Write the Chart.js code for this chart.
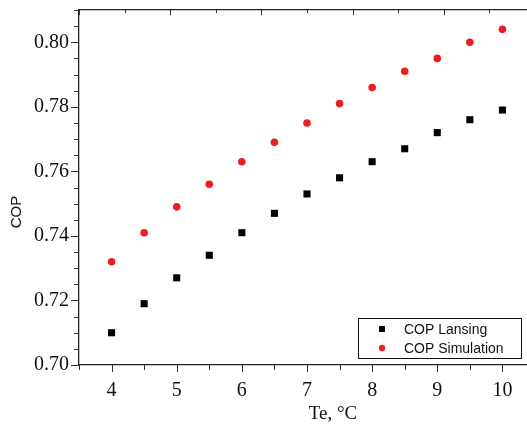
<!DOCTYPE html>
<html>
<head>
<meta charset="utf-8">
<script src="https://cdn.jsdelivr.net/npm/chart.js@4/dist/chart.umd.min.js"></script>
<style>
  html, body { margin: 0; padding: 0; background: #fff; overflow: hidden; }
  #wrap { width: 540px; height: 425px; }
</style>
</head>
<body>
<div id="wrap"><canvas id="copChart" width="540" height="425"></canvas></div>
<script>
// ========== DATA ========== //
const teValues = [4, 4.5, 5, 5.5, 6, 6.5, 7, 7.5, 8, 8.5, 9, 9.5, 10];
const copLansing = [0.710, 0.719, 0.727, 0.734, 0.741, 0.747, 0.753, 0.758, 0.763, 0.767, 0.772, 0.776, 0.779];
const copSimulation = [0.732, 0.741, 0.749, 0.756, 0.763, 0.769, 0.775, 0.781, 0.786, 0.791, 0.795, 0.800, 0.804];
const seriesNames = ["COP Lansing", "COP Simulation"];
const xTitle = "Te, °C";
const yTitle = "COP";

const serif = "'Liberation Serif', 'Times New Roman', serif";
const sans = "'Liberation Sans', Arial, sans-serif";

const isMultiple = (v, step) => Math.abs(v / step - Math.round(v / step)) < 1e-6;

// no extra room for edge labels, the plot box is fixed
function noEdgePadding(s) {
  s.paddingTop = 0;
  s.paddingBottom = 0;
  s.paddingLeft = 0;
  s.paddingRight = 0;
}

// ========== TICK MARKS + TITLES + LEGEND ========== //
const decorPlugin = {
  id: "decor",
  afterDraw(chart) {
    const { ctx, chartArea, scales } = chart;
    ctx.save();
    ctx.strokeStyle = "#333";
    ctx.lineWidth = 1;

    // left axis ticks (outward)
    scales.y.ticks.forEach(t => {
      const py = Math.round(scales.y.getPixelForValue(t.value)) + 0.5;
      const len = isMultiple(t.value, 0.02) ? 8 : 5;
      ctx.beginPath();
      ctx.moveTo(chartArea.left, py);
      ctx.lineTo(chartArea.left - len, py);
      ctx.stroke();
    });

    // bottom axis ticks (outward)
    scales.x.ticks.forEach(t => {
      const px = Math.round(scales.x.getPixelForValue(t.value)) + 0.5;
      const len = isMultiple(t.value, 1) ? 7 : 5;
      ctx.beginPath();
      ctx.moveTo(px, chartArea.bottom);
      ctx.lineTo(px, chartArea.bottom + len);
      ctx.stroke();
    });

    // top axis ticks (inward)
    scales.x2.ticks.forEach(t => {
      const px = Math.round(scales.x2.getPixelForValue(t.value)) + 0.5;
      const len = isMultiple(t.value, 2) ? 5 : 3;
      ctx.beginPath();
      ctx.moveTo(px, chartArea.top);
      ctx.lineTo(px, chartArea.top + len);
      ctx.stroke();
    });

    // axis titles
    ctx.fillStyle = "#111";
    ctx.textAlign = "center";
    ctx.textBaseline = "middle";
    ctx.font = "19px " + serif;
    ctx.fillText(xTitle, 333, 414);

    ctx.save();
    ctx.translate(17, 212);
    ctx.rotate(-Math.PI / 2);
    ctx.font = "15px " + sans;
    ctx.fillText(yTitle, 0, 0);
    ctx.restore();

    // legend box
    const lx = 358, ly = 318, lw = 163, lh = 40;
    ctx.strokeStyle = "#111";
    ctx.strokeRect(lx + 0.5, ly + 0.5, lw, lh);
    ctx.font = "14px " + sans;
    ctx.textAlign = "left";
    chart.data.datasets.forEach((ds, i) => {
      const rowY = ly + 11 + i * 19;
      ctx.fillStyle = ds.backgroundColor;
      Chart.helpers.drawPoint(ctx, {
        pointStyle: ds.pointStyle,
        radius: ds.pointStyle === "rect" ? 4.2 : 3.2,
        rotation: 0,
        borderWidth: 0
      }, 382, rowY);
      ctx.fillStyle = "#111";
      ctx.fillText(ds.label, 404, rowY + 1);
    });
    ctx.restore();
  }
};

// ========== CHART ========== //
const ctx = document.getElementById("copChart").getContext("2d");

new Chart(ctx, {
  type: "scatter",
  data: {
    datasets: [
      {
        label: seriesNames[0],
        data: teValues.map((x, i) => ({ x, y: copLansing[i] })),
        pointStyle: "rect",
        pointRadius: 5,
        pointHoverRadius: 5,
        backgroundColor: "#000",
        borderColor: "#000",
        borderWidth: 0
      },
      {
        label: seriesNames[1],
        data: teValues.map((x, i) => ({ x, y: copSimulation[i] })),
        pointStyle: "circle",
        pointRadius: 3.8,
        pointHoverRadius: 3.8,
        backgroundColor: "#ee1d23",
        borderColor: "#ee1d23",
        borderWidth: 0
      }
    ]
  },
  options: {
    responsive: false,
    animation: false,
    layout: { padding: { top: 10, left: 0, right: 4, bottom: 0 } },
    plugins: {
      legend: { display: false },
      tooltip: { enabled: false }
    },
    scales: {
      x: {
        type: "linear",
        position: "bottom",
        min: 3.5,
        max: 10.5,
        afterFit: s => { s.height = 60; noEdgePadding(s); },
        grid: { display: false, drawTicks: false },
        border: { display: true, color: "#222", width: 1.3 },
        ticks: {
          stepSize: 0.5,
          autoSkip: false,
          maxRotation: 0,
          padding: 14,
          color: "#111",
          font: { family: serif, size: 20 },
          callback: v => isMultiple(v, 1) ? String(v) : ""
        }
      },
      x2: {
        type: "linear",
        position: "top",
        min: 0,
        max: 10,
        afterFit: s => { s.height = 0; noEdgePadding(s); },
        grid: { display: false, drawTicks: false },
        border: { display: true, color: "#222", width: 1.3 },
        ticks: { display: false, stepSize: 1 }
      },
      y: {
        type: "linear",
        min: 0.70,
        max: 0.81,
        afterFit: s => { s.width = 79; noEdgePadding(s); },
        grid: { display: false, drawTicks: false },
        border: { display: true, color: "#222", width: 1.3 },
        ticks: {
          stepSize: 0.005,
          autoSkip: false,
          padding: 10,
          color: "#111",
          font: { family: serif, size: 20 },
          callback: v => isMultiple(v, 0.02) ? v.toFixed(2) : ""
        }
      }
    }
  },
  plugins: [decorPlugin]
});
</script>
</body>
</html>
